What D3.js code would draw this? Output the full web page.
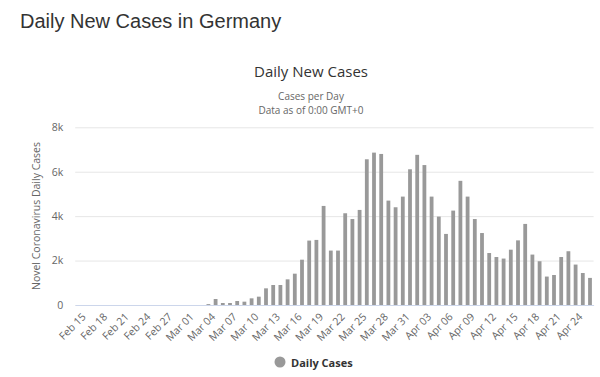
<!DOCTYPE html>
<html><head><meta charset="utf-8">
<script src="https://cdn.jsdelivr.net/npm/d3@7"></script>
<style>body{margin:0;background:#fff;}svg{display:block;}</style>
</head><body>
<svg id="c" width="600" height="377"></svg>
<script>
const categories = [
 "Feb 15","Feb 16","Feb 17","Feb 18","Feb 19","Feb 20","Feb 21","Feb 22","Feb 23","Feb 24","Feb 25","Feb 26","Feb 27","Feb 28","Feb 29",
 "Mar 01","Mar 02","Mar 03","Mar 04","Mar 05","Mar 06","Mar 07","Mar 08","Mar 09","Mar 10","Mar 11","Mar 12","Mar 13","Mar 14","Mar 15","Mar 16",
 "Mar 17","Mar 18","Mar 19","Mar 20","Mar 21","Mar 22","Mar 23","Mar 24","Mar 25","Mar 26","Mar 27","Mar 28","Mar 29","Mar 30","Mar 31",
 "Apr 01","Apr 02","Apr 03","Apr 04","Apr 05","Apr 06","Apr 07","Apr 08","Apr 09","Apr 10","Apr 11","Apr 12","Apr 13","Apr 14","Apr 15",
 "Apr 16","Apr 17","Apr 18","Apr 19","Apr 20","Apr 21","Apr 22","Apr 23","Apr 24","Apr 25","Apr 26"];
const dailyCases = [
 0,0,0,0,0,0,0,0,0,0,0,0,0,0,0,
 0,0,0,40,270,90,90,180,150,300,375,750,900,900,1155,1410,
 2040,2900,2930,4460,2450,2450,4130,3870,4280,6560,6860,6800,4700,4400,4880,
 6110,6760,6300,4880,3980,3200,4250,5590,4880,3870,3240,2340,2160,2090,2490,
 2910,3650,2270,1970,1280,1350,2160,2420,1820,1440,1220];
const xTickLabels = categories.filter((d,i)=>i%3===0);
const yTicks = [0,2000,4000,6000,8000];
const yTickLabels = ["0","2k","4k","6k","8k"];

const svg = d3.select("#c");
const L = 75.2, R = 593.6, T = 127.3, B = 305;
const x = d3.scaleBand().domain(categories).range([L,R]).padding(0);
const y = d3.scaleLinear().domain([0,8000]).range([B,T]);

svg.append("text").attr("x",20).attr("y",28).attr("font-family","Liberation Sans, Arial, sans-serif")
  .attr("font-size",20).attr("fill","#333").text("Daily New Cases in Germany");

svg.append("text").attr("x",311).attr("y",77).attr("text-anchor","middle").attr("font-family","Open Sans, sans-serif")
  .attr("font-size",15).attr("fill","#333").text("Daily New Cases");
svg.append("text").attr("x",311).attr("y",100).attr("text-anchor","middle").attr("font-family","Open Sans, sans-serif")
  .attr("font-size",10).attr("fill","#666").text("Cases per Day");
svg.append("text").attr("x",311).attr("y",113.5).attr("text-anchor","middle").attr("font-family","Open Sans, sans-serif")
  .attr("font-size",10).attr("fill","#666").text("Data as of 0:00 GMT+0");

// grid
const yAxis = d3.axisLeft(y).tickValues(yTicks).tickSize(-(R-L)).tickFormat((d,i)=>yTickLabels[i]);
const gy = svg.append("g").attr("transform",`translate(${L},0)`).call(yAxis);
gy.select(".domain").remove();
gy.selectAll(".tick line").attr("stroke","#e6e6e6");
gy.selectAll(".tick text").attr("x",-12).attr("fill","#666").attr("font-size",10.5)
  .attr("font-family","Open Sans, sans-serif");

svg.append("text").attr("transform","translate(40,216) rotate(-90)").attr("text-anchor","middle")
  .attr("font-family","Open Sans, sans-serif").attr("font-size",10.5).attr("fill","#666")
  .text("Novel Coronavirus Daily Cases");

// bars
const bw = 3.8;
svg.append("g").selectAll("rect").data(dailyCases).join("rect")
  .attr("x",(d,i)=>x(categories[i])+x.bandwidth()/2-bw/2)
  .attr("width",bw)
  .attr("y",d=>y(d))
  .attr("height",d=>B-y(d))
  .attr("fill","#999");

// x axis
const xAxis = d3.axisBottom(x).tickValues(xTickLabels).tickSize(0);
const gx = svg.append("g").attr("transform",`translate(0,${B})`).call(xAxis);
gx.select(".domain").attr("stroke","#ccd6eb");
gx.selectAll(".tick text").attr("text-anchor","end").attr("fill","#666").attr("font-size",10.5)
  .attr("font-family","Open Sans, sans-serif")
  .attr("transform","translate(5,10) rotate(-45)").attr("dy","0.35em").attr("y",0);

// legend
svg.append("circle").attr("cx",280).attr("cy",362).attr("r",5.5).attr("fill","#999");
svg.append("text").attr("x",291).attr("y",366.5).attr("font-family","Open Sans, sans-serif")
  .attr("font-size",11).attr("font-weight","bold").attr("fill","#333").text("Daily Cases");
</script>
</body></html>
